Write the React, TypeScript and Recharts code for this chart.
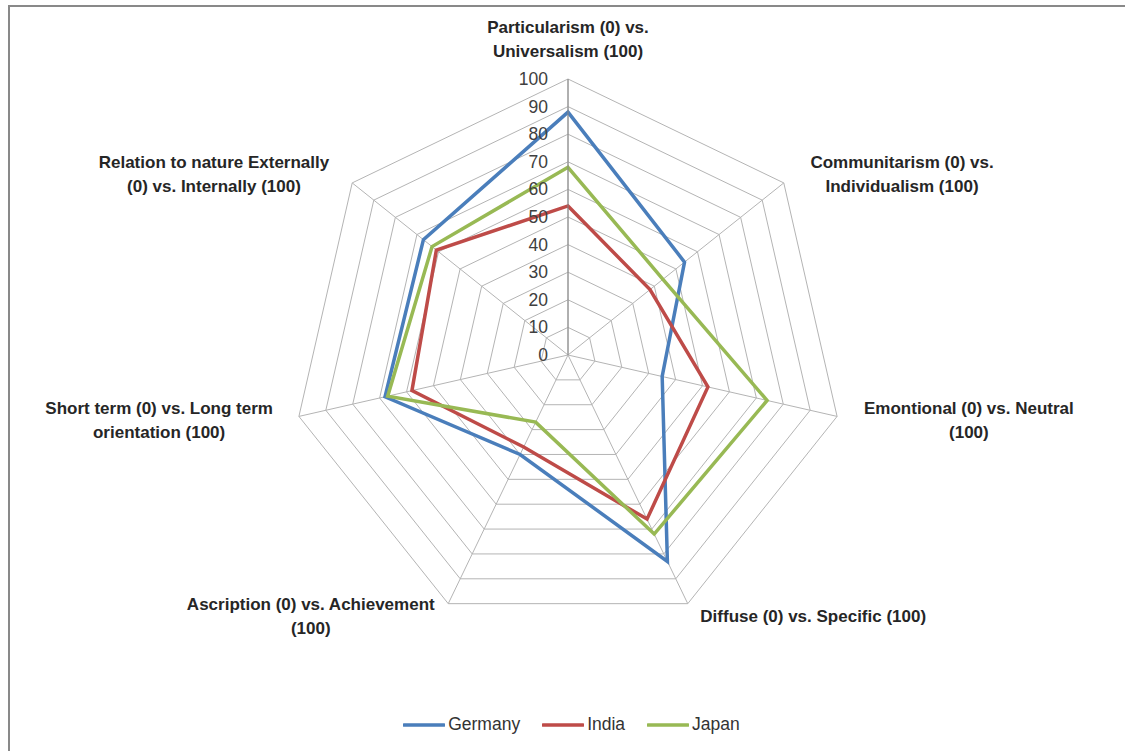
import React from "react";
import { RadarChart, PolarGrid, PolarAngleAxis, PolarRadiusAxis, Radar, Legend } from "recharts";

const categories = [
  "Particularism (0) vs. Universalism (100)",
  "Communitarism (0) vs. Individualism (100)",
  "Emontional (0) vs. Neutral (100)",
  "Diffuse (0) vs. Specific (100)",
  "Ascription (0) vs. Achievement (100)",
  "Short term (0) vs. Long term orientation (100)",
  "Relation to nature Externally (0) vs. Internally (100)",
];

const labelLines = [
  ["Particularism (0) vs.", "Universalism (100)"],
  ["Communitarism (0) vs.", "Individualism (100)"],
  ["Emontional (0) vs. Neutral", "(100)"],
  ["Diffuse (0) vs. Specific (100)"],
  ["Ascription (0) vs. Achievement", "(100)"],
  ["Short term (0) vs. Long term", "orientation (100)"],
  ["Relation to nature Externally", "(0) vs. Internally (100)"],
];

const germany = [88, 54, 35, 83, 40, 68, 67];
const india = [54, 38, 52, 66, 37, 58, 61];
const japan = [68, 44, 74, 72, 27, 67, 63];

const radiusTicks = [0, 10, 20, 30, 40, 50, 60, 70, 80, 90, 100];

const seriesNames = ["Germany", "India", "Japan"];
const seriesColors = ["#4A7EBB", "#BE4B48", "#98B954"];

const data = categories.map((c, i) => ({
  category: c,
  Germany: germany[i],
  India: india[i],
  Japan: japan[i],
}));

// label layout offsets relative to the axis end point
const labelOffsets = [
  [0, -44],
  [112, -15],
  [124, -10],
  [122, 6],
  [-134, -6],
  [-132, -10],
  [-132, -15],
];

const FONT = "'Liberation Sans', Arial, sans-serif";

const AngleTick = (props: any) => {
  const { x, y, index } = props;
  const lines = labelLines[index] || [];
  const [dx, dy] = labelOffsets[index] || [0, 0];
  return (
    <text
      x={x + dx}
      y={y + dy}
      textAnchor="middle"
      fontFamily={FONT}
      fontSize={17}
      fontWeight="bold"
      fill="#262626"
    >
      {lines.map((l: string, k: number) => (
        <tspan key={k} x={x + dx} y={y + dy + k * 24} dominantBaseline="central">
          {l}
        </tspan>
      ))}
    </text>
  );
};

const RadiusTick = (props: any) => {
  const { x, y, payload } = props;
  return (
    <text
      x={x - 20}
      y={y}
      textAnchor="end"
      dominantBaseline="central"
      fontFamily={FONT}
      fontSize={17.5}
      fill="#404040"
    >
      {payload.value}
    </text>
  );
};

const LegendContent = () => (
  <div
    style={{
      display: "flex",
      justifyContent: "center",
      alignItems: "center",
      fontFamily: FONT,
      fontSize: 17.5,
      color: "#333",
      gap: 22,
      paddingLeft: 18,
    }}
  >
    {seriesNames.map((n, i) => (
      <div key={n} style={{ display: "flex", alignItems: "center" }}>
        <svg width={42} height={10} style={{ marginRight: 3 }}>
          <line x1={1} y1={5} x2={41} y2={5} stroke={seriesColors[i]} strokeWidth={3.5} strokeLinecap="round" />
        </svg>
        <span>{n}</span>
      </div>
    ))}
  </div>
);

export default function App() {
  return (
    <div style={{ position: "absolute", left: 0, top: 0, width: 1125, height: 751, background: "#fff", overflow: "hidden" }}>
      <div
        style={{
          position: "absolute",
          left: 8,
          top: 5,
          width: 1117,
          height: 746,
          boxSizing: "border-box",
          borderTop: "2px solid #898989",
          borderLeft: "2px solid #898989",
        }}
      />
      <div style={{ position: "absolute", left: 0, top: 0 }}>
        <RadarChart
          width={1125}
          height={751}
          data={data}
          cx={568}
          cy={355}
          outerRadius={276}
          margin={{ top: 0, right: 0, bottom: 0, left: 0 }}
        >
          <PolarGrid gridType="polygon" stroke="#b4b4b4" strokeWidth={1} />
          <PolarAngleAxis
            dataKey="category"
            tick={<AngleTick />}
            tickLine={false}
            axisLine={false}
            tickSize={0}
          />
          <PolarRadiusAxis
            angle={90}
            domain={[0, 100]}
            ticks={radiusTicks as any}
            tickCount={11}
            tick={<RadiusTick />}
            axisLine={{ stroke: "#868686", strokeWidth: 1 }}
            tickLine={false}
          />
          {seriesNames.map((n, i) => (
            <Radar
              key={n}
              name={n}
              dataKey={n}
              stroke={seriesColors[i]}
              strokeWidth={3.5}
              fill="none"
              fillOpacity={0}
              dot={false}
              isAnimationActive={false}
            />
          ))}
          <Legend
            content={<LegendContent />}
            wrapperStyle={{ position: "absolute", top: 714, left: 0, width: 1125, height: 24 }}
          />
        </RadarChart>
      </div>
    </div>
  );
}
